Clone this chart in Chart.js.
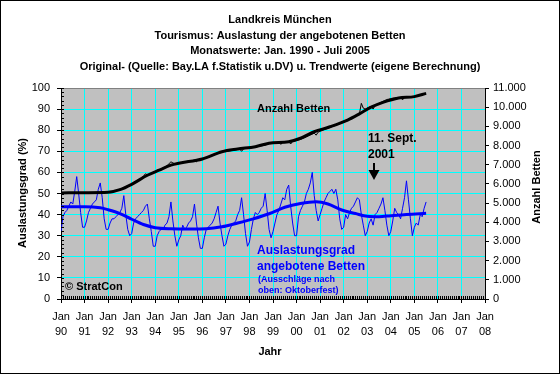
<!DOCTYPE html>
<html><head><meta charset="utf-8">
<script src="https://cdn.jsdelivr.net/npm/chart.js@4/dist/chart.umd.min.js"></script>
<style>html,body{margin:0;padding:0;background:#fff}canvas{display:block}</style>
</head><body>
<canvas id="c" width="560" height="374" style="width:560px;height:374px"></canvas>
<script>
// ---------- DATA ----------
const titelZeilen = [
  'Landkreis München',
  'Tourismus: Auslastung der angebotenen Betten',
  'Monatswerte: Jan. 1990 - Juli 2005',
  'Original- (Quelle: Bay.LA f.Statistik u.DV) u. Trendwerte (eigene Berechnung)'
];
// x-axis tick labels (January of each year)
const jahre = ['90','91','92','93','94','95','96','97','98','99','00','01','02','03','04','05','06','07','08'];

// Auslastungsgrad (%) – monthly values Jan 1990 .. Jul 2005
const auslastung = [
  32, 39, 41, 42, 44, 46, 45, 51, 58, 50, 41, 34,   // 1990
  34, 37, 41, 43, 45, 46, 47, 52, 55, 48, 38, 33,   // 1991
  33, 36, 38, 38, 39, 40, 41, 43, 49, 40, 33, 30,   // 1992
  31, 36, 38, 39, 40, 41, 42, 44, 45, 38, 32, 25,   // 1993
  25, 30, 32, 33, 33, 35, 36, 39, 46, 37, 30, 25,   // 1994
  28, 30, 35, 33, 34, 36, 37, 39, 45, 36, 29, 24,   // 1995
  24, 29, 33, 34, 35, 36, 38, 41, 44, 36, 30, 25,   // 1996
  26, 30, 33, 35, 36, 37, 40, 42, 48, 40, 31, 25,   // 1997
  27, 33, 38, 41, 40, 41, 43, 44, 50, 42, 33, 29,   // 1998
  32, 36, 40, 42, 45, 48, 47, 52, 54, 44, 36, 30,   // 1999
  30, 39, 42, 44, 46, 50, 52, 55, 60, 49, 42, 37,   // 2000
  40, 43, 46, 48, 50, 51, 52, 50, 52, 47, 38, 33,   // 2001
  34, 40, 38, 41, 43, 44, 46, 48, 47, 40, 35, 30,   // 2002
  32, 36, 38, 35, 40, 41, 43, 45, 48, 42, 35, 30,   // 2003
  32, 37, 43, 41, 40, 38, 43, 48, 56, 47, 38, 30,   // 2004
  34, 36, 35, 40, 39, 43, 46                        // 2005
];
// Trend of Auslastungsgrad: month index (0 = Jan 1990) and value
const auslastungTrendMonat = [0, 12, 20, 24, 30, 36, 42, 48, 56, 66, 74, 82, 90, 98, 106, 114, 122, 130, 136, 143, 150, 156, 162, 168, 176, 186];
const auslastungTrendWert  = [43.7, 43.7, 43.2, 42.3, 40.5, 37.8, 35.3, 33.8, 33.3, 33.2, 33.3, 34.2, 36, 38, 40.4, 43.5, 45.3, 46.1, 45, 42.2, 40.5, 39.2, 39, 39.5, 40.1, 40.6];

// Anzahl Betten – monthly values Jan 1990 .. Jul 2005
const betten = [
  5520,5530,5530,5540,5530,5530,5540,5540,5530,5530,5540,5540,       // 1990
  5540,5540,5550,5540,5550,5550,5560,5550,5540,5560,5600,5560,       // 1991
  5560,5580,5600,5620,5650,5680,5720,5760,5800,5850,5900,5940,       // 1992
  5980,6040,6100,6160,6230,6300,6420,6520,6480,6500,6540,6600,       // 1993
  6650,6700,6740,6790,6830,6880,6950,7050,7150,7100,7040,7060,       // 1994
  7080,7100,7120,7150,7170,7190,7200,7220,7240,7150,7270,7290,       // 1995
  7300,7330,7360,7400,7440,7480,7520,7560,7590,7620,7650,7670,       // 1996
  7680,7700,7720,7740,7760,7780,7800,7820,7700,7830,7850,7860,       // 1997
  7880,7900,7910,7930,7940,7960,7980,8000,8020,8060,8100,8130,       // 1998
  8140,8150,8160,8170,8060,8180,8190,8200,8210,8080,8220,8240,       // 1999
  8260,8290,8320,8360,8400,8450,8500,8550,8600,8650,8540,8700,       // 2000
  8740,8780,8820,8860,8900,8940,8980,9020,9060,9100,9140,9180,       // 2001
  9220,9260,9300,9350,9400,9460,9520,9580,9640,10200,9950,9900,      // 2002
  9950,10000,10050,9900,10100,10150,10200,10250,10300,10350,10400,10420, // 2003
  10450,10470,10480,10500,10500,10510,10380,10520,10530,10540,10550,10550, // 2004
  10560,10580,10600,10620,10650,10680,10720                          // 2005
];
const bettenTrendMonat = [0, 12, 24, 30, 36, 44, 50, 56, 60, 72, 82, 90, 99, 106, 116, 122, 129, 137, 146, 152, 158, 164, 172, 180, 186];
const bettenTrendWert  = [5530, 5540, 5560, 5700, 5980, 6450, 6720, 6980, 7080, 7300, 7680, 7820, 7940, 8120, 8200, 8380, 8720, 8980, 9330, 9650, 10000, 10250, 10480, 10550, 10720];

// ---------- CHART ----------
const FONT = "'Liberation Sans', Arial, Helvetica, sans-serif";
const monthly = arr => arr.map((v, i) => ({x: i, y: v}));
const paired = (xs, ys) => xs.map((x, i) => ({x: x, y: ys[i]}));
const fmtTsd = v => v === 0 ? '0' : Math.floor(v / 1000) + '.' + String(v % 1000).padStart(3, '0');

const bgPlugin = {
  id: 'bg',
  beforeDraw(chart) {
    const {ctx, chartArea: a} = chart;
    ctx.save();
    ctx.fillStyle = '#fff';
    ctx.fillRect(0, 0, chart.width, chart.height);
    ctx.fillStyle = '#C0C0C0';
    ctx.fillRect(a.left, a.top, a.right - a.left, a.bottom - a.top);
    ctx.restore();
  },
  afterDraw(chart) {
    const {ctx, chartArea: a, scales} = chart;
    ctx.save();
    // top border of plot area
    ctx.strokeStyle = '#808080';
    ctx.lineWidth = 1;
    ctx.beginPath();
    ctx.moveTo(a.left, a.top + 0.5); ctx.lineTo(a.right, a.top + 0.5);
    ctx.stroke();
    // minor ticks: left axis every 2 units, x axis monthly
    ctx.strokeStyle = '#000';
    ctx.beginPath();
    for (let v = 0; v <= 100; v += 2) {
      const y = Math.round(scales.y.getPixelForValue(v)) + 0.5;
      ctx.moveTo(a.left, y); ctx.lineTo(a.left + 3, y);
    }
    for (let m = 0; m <= 216; m++) {
      const x = Math.round(scales.x.getPixelForValue(m)) + 0.5;
      ctx.moveTo(x, a.bottom); ctx.lineTo(x, a.bottom - 3);
    }
    ctx.stroke();
    // outer frame
    ctx.strokeStyle = '#000';
    ctx.strokeRect(0.5, 0.5, chart.width - 1, chart.height - 1);

    ctx.textBaseline = 'middle';
    // title
    ctx.fillStyle = '#000';
    ctx.textAlign = 'center';
    ctx.font = 'bold 11px ' + FONT;
    const ty = [20, 36, 51, 67];
    titelZeilen.forEach((t, i) => ctx.fillText(t, 280, ty[i]));
    // x axis title
    ctx.fillText('Jahr', 270, 352);
    // y axis titles
    ctx.save();
    ctx.translate(23, 193); ctx.rotate(-Math.PI / 2);
    ctx.fillText('Auslastungsgrad (%)', 0, 0);
    ctx.restore();
    ctx.save();
    ctx.translate(537, 187); ctx.rotate(-Math.PI / 2);
    ctx.fillText('Anzahl Betten', 0, 0);
    ctx.restore();
    // in-plot labels
    ctx.textAlign = 'left';
    ctx.fillText('Anzahl Betten', 257, 109);
    ctx.fillText('© StratCon', 65, 287);
    ctx.font = 'bold 12px ' + FONT;
    ctx.fillText('11. Sept.', 368, 139);
    ctx.fillText('2001', 368, 155);
    ctx.fillStyle = '#0000FF';
    ctx.fillText('Auslastungsgrad', 257, 251);
    ctx.fillText('angebotene Betten', 257, 267);
    ctx.font = 'bold 9px ' + FONT;
    ctx.fillText('(Ausschläge nach', 258, 280);
    ctx.fillText('oben: Oktoberfest)', 258, 291);
    // arrow
    ctx.strokeStyle = '#000'; ctx.fillStyle = '#000';
    ctx.lineWidth = 2;
    ctx.beginPath(); ctx.moveTo(374, 163); ctx.lineTo(374, 171); ctx.stroke();
    ctx.beginPath(); ctx.moveTo(368.5, 170); ctx.lineTo(379.5, 170); ctx.lineTo(374, 180); ctx.closePath(); ctx.fill();
    ctx.restore();
  }
};

new Chart(document.getElementById('c'), {
  type: 'line',
  data: {
    datasets: [
      {label: 'Auslastung Trend', data: paired(auslastungTrendMonat, auslastungTrendWert), yAxisID: 'y',
       borderColor: '#0000FF', borderWidth: 3, pointRadius: 0, cubicInterpolationMode: 'monotone', order: 0},
      {label: 'Betten Trend', data: paired(bettenTrendMonat, bettenTrendWert), yAxisID: 'y1',
       borderColor: '#000000', borderWidth: 3, pointRadius: 0, cubicInterpolationMode: 'monotone', order: 0},
      {label: 'Auslastungsgrad', data: monthly(auslastung), yAxisID: 'y',
       borderColor: '#0000FF', borderWidth: 1, pointRadius: 0, tension: 0, order: 1},
      {label: 'Anzahl Betten', data: monthly(betten), yAxisID: 'y1',
       borderColor: '#000000', borderWidth: 1, pointRadius: 0, tension: 0, order: 1}
    ]
  },
  options: {
    responsive: false, animation: false, devicePixelRatio: 1,
    layout: {padding: {top: 88, left: 0, right: 0, bottom: 0}},
    plugins: {legend: {display: false}, tooltip: {enabled: false}, title: {display: false}},
    scales: {
      x: {
        type: 'linear', min: 0, max: 216,
        afterBuildTicks: s => { s.ticks = jahre.map((j, i) => ({value: i * 12})); },
        ticks: {autoSkip: false, maxRotation: 0, minRotation: 0, padding: 6, color: '#000',
                font: {family: FONT, size: 11, lineHeight: 1.4},
                callback: v => ['Jan', jahre[Math.round(v / 12)]]},
        grid: {color: '#00FFFF', lineWidth: 1, tickColor: '#000', tickLength: 4},
        border: {color: '#000', width: 1},
        afterFit: s => { s.height = 75; }
      },
      y: {
        position: 'left', min: 0, max: 100,
        ticks: {stepSize: 10, padding: 7, color: '#000', font: {family: FONT, size: 11}},
        grid: {color: '#00FFFF', lineWidth: 1, tickColor: '#000', tickLength: 4},
        border: {color: '#000', width: 1},
        afterFit: s => { s.width = 61; }
      },
      y1: {
        position: 'right', min: 0, max: 11000,
        ticks: {stepSize: 1000, padding: 4, color: '#000', font: {family: FONT, size: 11}, callback: v => fmtTsd(v)},
        grid: {drawOnChartArea: false, tickColor: '#000', tickLength: 4},
        border: {color: '#000', width: 1},
        afterFit: s => { s.width = 75; }
      }
    }
  },
  plugins: [bgPlugin]
});
</script>
</body></html>
